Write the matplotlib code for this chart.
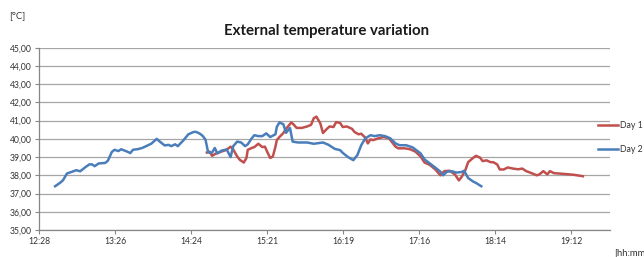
import matplotlib
matplotlib.use("Agg")
import matplotlib.pyplot as plt

# Day 1 (red) readings
day1_times = ["14:36", "14:38", "14:40", "14:43", "14:47", "14:51", "14:54", "14:56", "14:59", "15:01",
              "15:04", "15:06", "15:07", "15:10", "15:12", "15:15", "15:18", "15:20", "15:22", "15:24",
              "15:26", "15:28", "15:29", "15:31", "15:34", "15:36", "15:40", "15:42", "15:44", "15:48",
              "15:52", "15:55", "15:57", "15:59", "16:02", "16:04", "16:07", "16:09", "16:12", "16:14",
              "16:17", "16:19", "16:22", "16:26", "16:28", "16:31", "16:33", "16:36", "16:38", "16:40",
              "16:42", "16:46", "16:50", "16:54", "16:56", "16:59", "17:01", "17:06", "17:10", "17:14",
              "17:18", "17:21", "17:25", "17:29", "17:33", "17:36", "17:40", "17:44", "17:47", "17:49",
              "17:52", "17:54", "17:58", "18:00", "18:03", "18:05", "18:08", "18:11", "18:13", "18:16",
              "18:18", "18:21", "18:24", "18:28", "18:32", "18:35", "18:38", "18:42", "18:46", "18:48",
              "18:51", "18:54", "18:56", "18:59", "19:06", "19:14", "19:21"]
day1_temp = [39.25, 39.30, 39.07, 39.20, 39.30, 39.40, 39.57, 39.42, 39.03, 38.85,
             38.70, 38.95, 39.40, 39.50, 39.55, 39.73, 39.55, 39.57, 39.25, 38.95,
             39.03, 39.57, 39.93, 40.10, 40.32, 40.55, 40.90, 40.77, 40.60, 40.60,
             40.68, 40.77, 41.13, 41.22, 40.85, 40.32, 40.55, 40.68, 40.65, 40.92,
             40.87, 40.65, 40.68, 40.55, 40.37, 40.25, 40.28, 40.07, 39.75, 39.97,
             39.93, 40.03, 40.10, 40.03, 39.85, 39.57, 39.48, 39.48, 39.43, 39.30,
             39.03, 38.70, 38.57, 38.33, 38.00, 38.23, 38.25, 38.05, 37.72, 37.90,
             38.30, 38.72, 38.97, 39.07, 38.97, 38.78, 38.82, 38.72, 38.72, 38.60,
             38.32, 38.32, 38.43, 38.37, 38.33, 38.37, 38.23, 38.12, 38.00, 38.05,
             38.23, 38.05, 38.23, 38.12, 38.08, 38.03, 37.95]

# Day 2 (blue) readings
day2_times = ["12:41", "12:45", "12:47", "12:50", "12:54", "12:57", "13:00", "13:04", "13:07", "13:09",
              "13:11", "13:14", "13:19", "13:21", "13:24", "13:26", "13:29", "13:31", "13:35", "13:38",
              "13:40", "13:44", "13:47", "13:50", "13:54", "13:58", "14:00", "14:04", "14:07", "14:09",
              "14:12", "14:14", "14:18", "14:22", "14:26", "14:28", "14:31", "14:33", "14:35", "14:37",
              "14:40", "14:42", "14:44", "14:47", "14:51", "14:54", "14:56", "14:59", "15:02", "15:05",
              "15:07", "15:10", "15:12", "15:15", "15:18", "15:21", "15:24", "15:28", "15:29", "15:31",
              "15:34", "15:36", "15:39", "15:41", "15:45", "15:52", "15:57", "16:04", "16:08", "16:13",
              "16:17", "16:19", "16:23", "16:27", "16:30", "16:33", "16:36", "16:40", "16:43", "16:47",
              "16:51", "16:55", "16:59", "17:02", "17:07", "17:12", "17:18", "17:21", "17:25", "17:29",
              "17:33", "17:35", "17:38", "17:42", "17:45", "17:49", "17:51", "17:54", "17:58", "18:00",
              "18:04"]
day2_temp = [37.40, 37.60, 37.73, 38.10, 38.20, 38.28, 38.22, 38.45, 38.60, 38.60,
             38.50, 38.65, 38.68, 38.80, 39.28, 39.40, 39.33, 39.43, 39.32, 39.22,
             39.40, 39.44, 39.50, 39.60, 39.74, 40.00, 39.87, 39.64, 39.67, 39.60,
             39.70, 39.60, 39.90, 40.25, 40.38, 40.38, 40.27, 40.15, 39.95, 39.25,
             39.25, 39.50, 39.20, 39.35, 39.42, 39.00, 39.60, 39.85, 39.80, 39.60,
             39.70, 40.03, 40.20, 40.15, 40.15, 40.30, 40.10, 40.25, 40.65, 40.90,
             40.80, 40.33, 40.60, 39.85, 39.80, 39.80, 39.73, 39.80, 39.68, 39.45,
             39.38, 39.23, 39.00, 38.83, 39.10, 39.65, 40.02, 40.20, 40.15, 40.20,
             40.15, 40.03, 39.75, 39.65, 39.65, 39.53, 39.20, 38.87, 38.65, 38.43,
             38.20, 38.00, 38.20, 38.22, 38.15, 38.18, 38.25, 37.85, 37.65, 37.58,
             37.40]

x_labels = ["12:28", "13:26", "14:24", "15:21", "16:19", "17:16", "18:14", "19:12"]
y_ticks = [35, 36, 37, 38, 39, 40, 41, 42, 43, 44, 45]


def to_day(s):
    h, m = s.split(":")
    return (int(h) * 60 + int(m)) / 1440.0


plt.rcParams['font.family'] = ['Lato', 'DejaVu Sans']

fig = plt.figure(figsize=(6.44, 2.57), dpi=100)
ax = fig.add_axes([39 / 644, 1 - 230 / 257, (610 - 39) / 644, (230 - 47.7) / 257])

ax.plot([to_day(t) for t in day1_times], day1_temp, color='#c0504d', lw=1.8, label='Day 1')
ax.plot([to_day(t) for t in day2_times], day2_temp, color='#4a7ebb', lw=1.8, label='Day 2')

xt = [0.52 + 0.04 * i for i in range(len(x_labels))]
ax.set_xticks(xt)
ax.set_xticklabels(x_labels, fontsize=6.2, color='#333333')
ax.set_xlim(0.52, 0.8205)
ax.set_ylim(35, 45)
ax.set_yticks(y_ticks)
ax.set_yticklabels(["%d,00" % v for v in y_ticks], fontsize=6.2, color='#333333')
ax.grid(axis='y', color='#a6a6a6', lw=0.9)
ax.set_axisbelow(True)
for s in ['top', 'right']:
    ax.spines[s].set_visible(False)
for s in ['left', 'bottom']:
    ax.spines[s].set_color('#868686')
    ax.spines[s].set_linewidth(0.9)
ax.tick_params(axis='both', length=3, width=0.8, color='#868686', pad=2)

fig.text(327 / 644, 1 - 31 / 257, "External temperature variation", ha='center', va='center',
         fontsize=10.8, fontweight='bold', color='#1a1a1a')
fig.text(9 / 644, 1 - 16 / 257, "[°C]", ha='left', va='center', fontsize=6.8, color='#333333')
fig.text(614 / 644, 1 - 253 / 257, "[hh:mm", ha='left', va='center', fontsize=6.8, color='#333333')

leg = ax.legend(loc='upper left', bbox_to_anchor=(598 / 644, 1 - 121 / 257),
                bbox_transform=fig.transFigure, frameon=False, fontsize=6.3,
                handlelength=2.3, handletextpad=0.2, labelspacing=1.75, borderaxespad=0,
                borderpad=0)
for t in leg.get_texts():
    t.set_color('#333333')

fig.savefig("out.png", dpi=100)
